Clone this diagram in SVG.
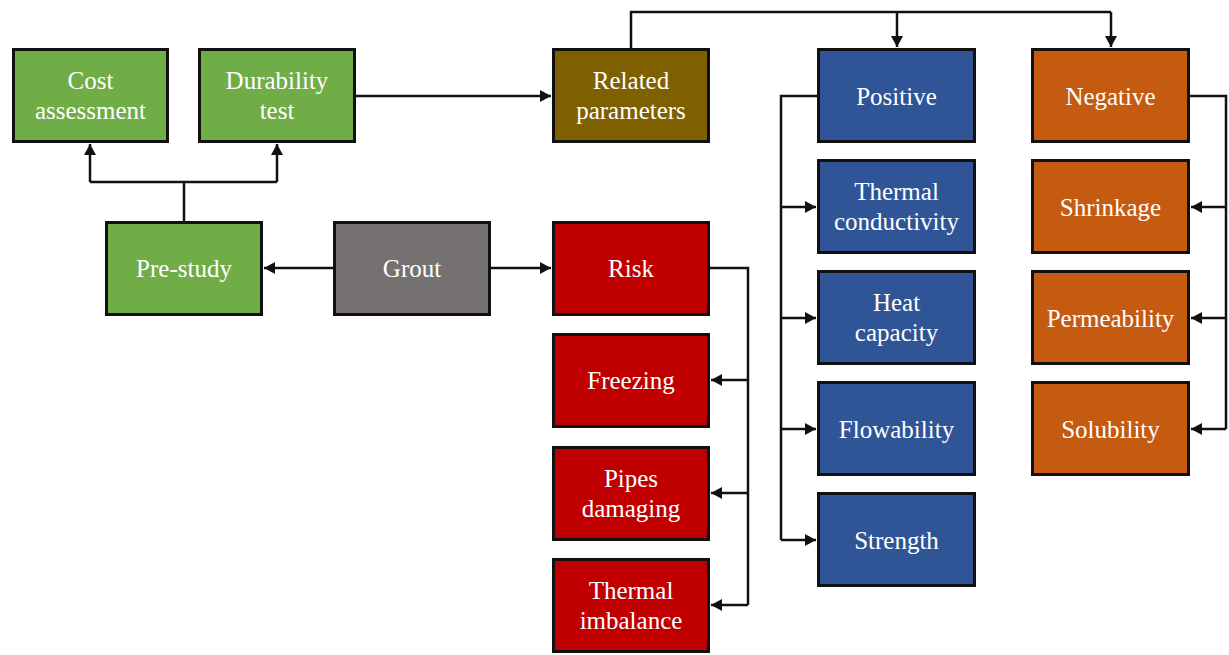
<svg xmlns="http://www.w3.org/2000/svg" width="1229" height="655" viewBox="0 0 1229 655">
<style>
.box{stroke:#111;stroke-width:3}
.g{fill:#70AD47}.gr{fill:#767171}.br{fill:#7F6000}.bl{fill:#2F5597}.or{fill:#C55A11}.rd{fill:#C00000}
text{font-family:"Liberation Serif","Times New Roman",serif;font-size:25px;fill:#fff;text-anchor:middle}
.c{fill:none;stroke:#111;stroke-width:2.5}
</style>
<defs>
<marker id="ah" viewBox="0 0 11 12" refX="11" refY="6" markerWidth="11" markerHeight="12" markerUnits="userSpaceOnUse" orient="auto">
<path d="M0,0 L11,6 L0,12 z" fill="#111"/>
</marker>
</defs>
<rect width="1229" height="655" fill="#fff"/>
<g id="connectors">
<path class="c" d="M184,221 V182 M90,182 H277" />
<path class="c" d="M90,182 V144" marker-end="url(#ah)"/>
<path class="c" d="M277,182 V144" marker-end="url(#ah)"/>
<path class="c" d="M333,268 H264" marker-end="url(#ah)"/>
<path class="c" d="M491,268 H551" marker-end="url(#ah)"/>
<path class="c" d="M356,96 H551" marker-end="url(#ah)"/>
<path class="c" d="M631,48 V12 H1111" />
<path class="c" d="M897,12 V47" marker-end="url(#ah)"/>
<path class="c" d="M1111,12 V47" marker-end="url(#ah)"/>
<path class="c" d="M817,96 H781 V540" />
<path class="c" d="M781,207 H816" marker-end="url(#ah)"/>
<path class="c" d="M781,318 H816" marker-end="url(#ah)"/>
<path class="c" d="M781,429 H816" marker-end="url(#ah)"/>
<path class="c" d="M781,540 H816" marker-end="url(#ah)"/>
<path class="c" d="M1190,96 H1226 V429" />
<path class="c" d="M1226,207 H1191" marker-end="url(#ah)"/>
<path class="c" d="M1226,318 H1191" marker-end="url(#ah)"/>
<path class="c" d="M1226,429 H1191" marker-end="url(#ah)"/>
<path class="c" d="M710,268 H748 V605" />
<path class="c" d="M748,380 H711" marker-end="url(#ah)"/>
<path class="c" d="M748,493 H711" marker-end="url(#ah)"/>
<path class="c" d="M748,605 H711" marker-end="url(#ah)"/>
</g>
<g id="cost"><rect class="box g" x="13.5" y="49.5" width="154" height="92"/><text x="90.5" y="89">Cost</text><text x="90.5" y="119">assessment</text></g>
<g id="durability"><rect class="box g" x="199.5" y="49.5" width="155" height="92"/><text x="277" y="89">Durability</text><text x="277" y="119">test</text></g>
<g id="prestudy"><rect class="box g" x="106.5" y="222.5" width="155" height="92"/><text x="184" y="277">Pre-study</text></g>
<g id="grout"><rect class="box gr" x="334.5" y="222.5" width="155" height="92"/><text x="412" y="277">Grout</text></g>
<g id="related"><rect class="box br" x="553.5" y="49.5" width="155" height="92"/><text x="631" y="89">Related</text><text x="631" y="119">parameters</text></g>
<g id="risk"><rect class="box rd" x="553.5" y="222.5" width="155" height="92"/><text x="631" y="277">Risk</text></g>
<g id="freezing"><rect class="box rd" x="553.5" y="334.5" width="155" height="92"/><text x="631" y="389">Freezing</text></g>
<g id="pipes"><rect class="box rd" x="553.5" y="447.5" width="155" height="92"/><text x="631" y="487">Pipes</text><text x="631" y="517">damaging</text></g>
<g id="imbalance"><rect class="box rd" x="553.5" y="559.5" width="155" height="92"/><text x="631" y="599">Thermal</text><text x="631" y="629">imbalance</text></g>
<g id="positive"><rect class="box bl" x="818.5" y="49.5" width="156" height="92"/><text x="896.5" y="105">Positive</text></g>
<g id="conductivity"><rect class="box bl" x="818.5" y="160.5" width="156" height="92"/><text x="896.5" y="200">Thermal</text><text x="896.5" y="230">conductivity</text></g>
<g id="heat"><rect class="box bl" x="818.5" y="271.5" width="156" height="92"/><text x="896.5" y="311">Heat</text><text x="896.5" y="341">capacity</text></g>
<g id="flowability"><rect class="box bl" x="818.5" y="382.5" width="156" height="92"/><text x="896.5" y="438">Flowability</text></g>
<g id="strength"><rect class="box bl" x="818.5" y="493.5" width="156" height="92"/><text x="896.5" y="549">Strength</text></g>
<g id="negative"><rect class="box or" x="1032.5" y="49.5" width="156" height="92"/><text x="1110.5" y="105">Negative</text></g>
<g id="shrinkage"><rect class="box or" x="1032.5" y="160.5" width="156" height="92"/><text x="1110.5" y="216">Shrinkage</text></g>
<g id="permeability"><rect class="box or" x="1032.5" y="271.5" width="156" height="92"/><text x="1110.5" y="327">Permeability</text></g>
<g id="solubility"><rect class="box or" x="1032.5" y="382.5" width="156" height="92"/><text x="1110.5" y="438">Solubility</text></g>
</svg>
